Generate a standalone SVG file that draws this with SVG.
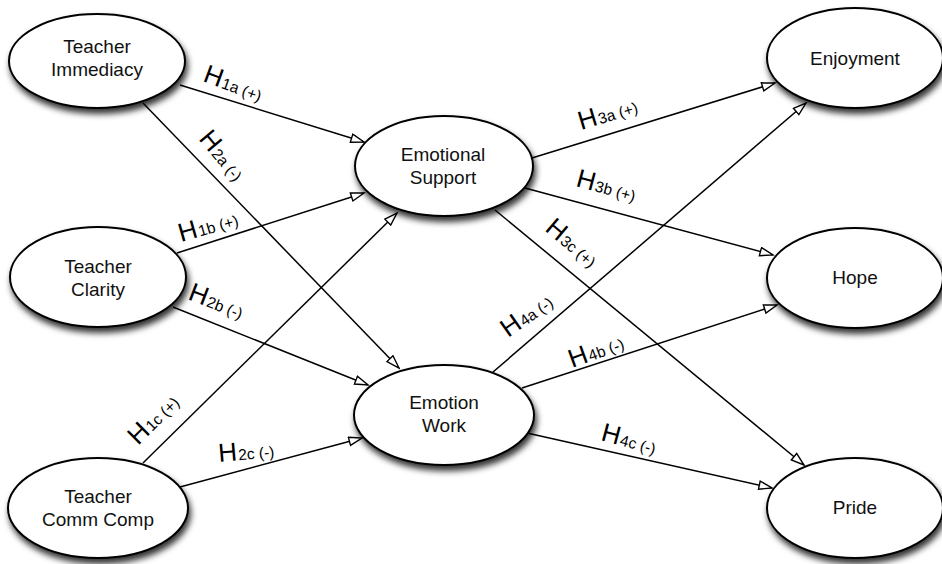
<svg xmlns="http://www.w3.org/2000/svg" width="942" height="564" viewBox="0 0 942 564">
<style>
  .node ellipse { fill: #ffffff; stroke: #000000; stroke-width: 2; filter: url(#shadow); }
  .node text { font-family: "Liberation Sans", Arial, sans-serif; font-size: 19px; fill: #111; text-anchor: middle; }
  .edges line { stroke: #000; stroke-width: 1.5; marker-end: url(#arrow); }
  .lbl { font-family: "Liberation Sans", Arial, sans-serif; font-size: 26px; fill: #000; }
  .lbl tspan { font-size: 15.5px; }
</style>
<defs>
  <filter id="shadow" x="-20%" y="-20%" width="140%" height="150%">
    <feDropShadow dx="2" dy="5" stdDeviation="3" flood-color="#000" flood-opacity="0.8"/>
  </filter>
  <marker id="arrow" markerUnits="userSpaceOnUse" markerWidth="16" markerHeight="12" refX="14" refY="5" orient="auto">
    <path d="M1,0.8 L14,5 L1,9.2 z" fill="#fff" stroke="#000" stroke-width="1.4"/>
  </marker>
</defs>
<rect width="942" height="564" fill="#fff"/>
<g class="edges">
  <line x1="180" y1="85" x2="364" y2="142"/>
  <line x1="143" y1="103" x2="399" y2="368"/>
  <line x1="177" y1="253" x2="364" y2="193"/>
  <line x1="173" y1="307" x2="368" y2="385"/>
  <line x1="143" y1="463" x2="397" y2="213"/>
  <line x1="180" y1="487" x2="362" y2="438"/>
  <line x1="532" y1="158" x2="775" y2="83"/>
  <line x1="525" y1="188" x2="773" y2="255"/>
  <line x1="495" y1="210" x2="804" y2="465"/>
  <line x1="493" y1="372" x2="806" y2="103"/>
  <line x1="522" y1="388" x2="777" y2="305"/>
  <line x1="527" y1="433" x2="772" y2="488"/>
</g>
<g id="labels">
  <text class="lbl" x="202" y="81" transform="rotate(20 202 81)">H<tspan dx="1">1a (+)</tspan></text>
  <text class="lbl" x="198" y="139" transform="rotate(50 198 139)">H<tspan dx="1">2a (-)</tspan></text>
  <text class="lbl" x="181" y="242" transform="rotate(-16 181 242)">H<tspan dx="1">1b (+)</tspan></text>
  <text class="lbl" x="187" y="299" transform="rotate(21 187 299)">H<tspan dx="1">2b (-)</tspan></text>
  <text class="lbl" x="138" y="446" transform="rotate(-45 138 446)">H<tspan dx="1">1c (+)</tspan></text>
  <text class="lbl" x="219" y="462" transform="rotate(-5 219 462)">H<tspan dx="1">2c (-)</tspan></text>
  <text class="lbl" x="581" y="130" transform="rotate(-17 581 130)">H<tspan dx="1">3a (+)</tspan></text>
  <text class="lbl" x="575" y="186" transform="rotate(15 575 186)">H<tspan dx="1">3b (+)</tspan></text>
  <text class="lbl" x="544" y="230" transform="rotate(40 544 230)">H<tspan dx="1">3c (+)</tspan></text>
  <text class="lbl" x="508" y="338" transform="rotate(-35 508 338)">H<tspan dx="1">4a (-)</tspan></text>
  <text class="lbl" x="572" y="368" transform="rotate(-20 572 368)">H<tspan dx="1">4b (-)</tspan></text>
  <text class="lbl" x="600" y="440" transform="rotate(15 600 440)">H<tspan dx="1">4c (-)</tspan></text>
</g>
<g id="teacher-immediacy" class="node">
  <ellipse cx="97" cy="61" rx="88" ry="47"/>
  <text x="97" y="53">Teacher</text>
  <text x="97" y="76">Immediacy</text>
</g>
<g id="teacher-clarity" class="node">
  <ellipse cx="98" cy="277" rx="88" ry="50"/>
  <text x="98" y="273">Teacher</text>
  <text x="98" y="296">Clarity</text>
</g>
<g id="teacher-comm-comp" class="node">
  <ellipse cx="98" cy="508" rx="90" ry="50"/>
  <text x="98" y="503">Teacher</text>
  <text x="98" y="526">Comm Comp</text>
</g>
<g id="emotional-support" class="node">
  <ellipse cx="444" cy="166" rx="89" ry="50"/>
  <text x="443" y="161">Emotional</text>
  <text x="443" y="184">Support</text>
</g>
<g id="emotion-work" class="node">
  <ellipse cx="444" cy="415" rx="90" ry="50"/>
  <text x="444" y="409">Emotion</text>
  <text x="444" y="432">Work</text>
</g>
<g id="enjoyment" class="node">
  <ellipse cx="855" cy="58" rx="88" ry="50"/>
  <text x="855" y="65">Enjoyment</text>
</g>
<g id="hope" class="node">
  <ellipse cx="855" cy="278" rx="88" ry="50"/>
  <text x="855" y="284">Hope</text>
</g>
<g id="pride" class="node">
  <ellipse cx="855" cy="508" rx="88" ry="50"/>
  <text x="855" y="514">Pride</text>
</g>
</svg>
